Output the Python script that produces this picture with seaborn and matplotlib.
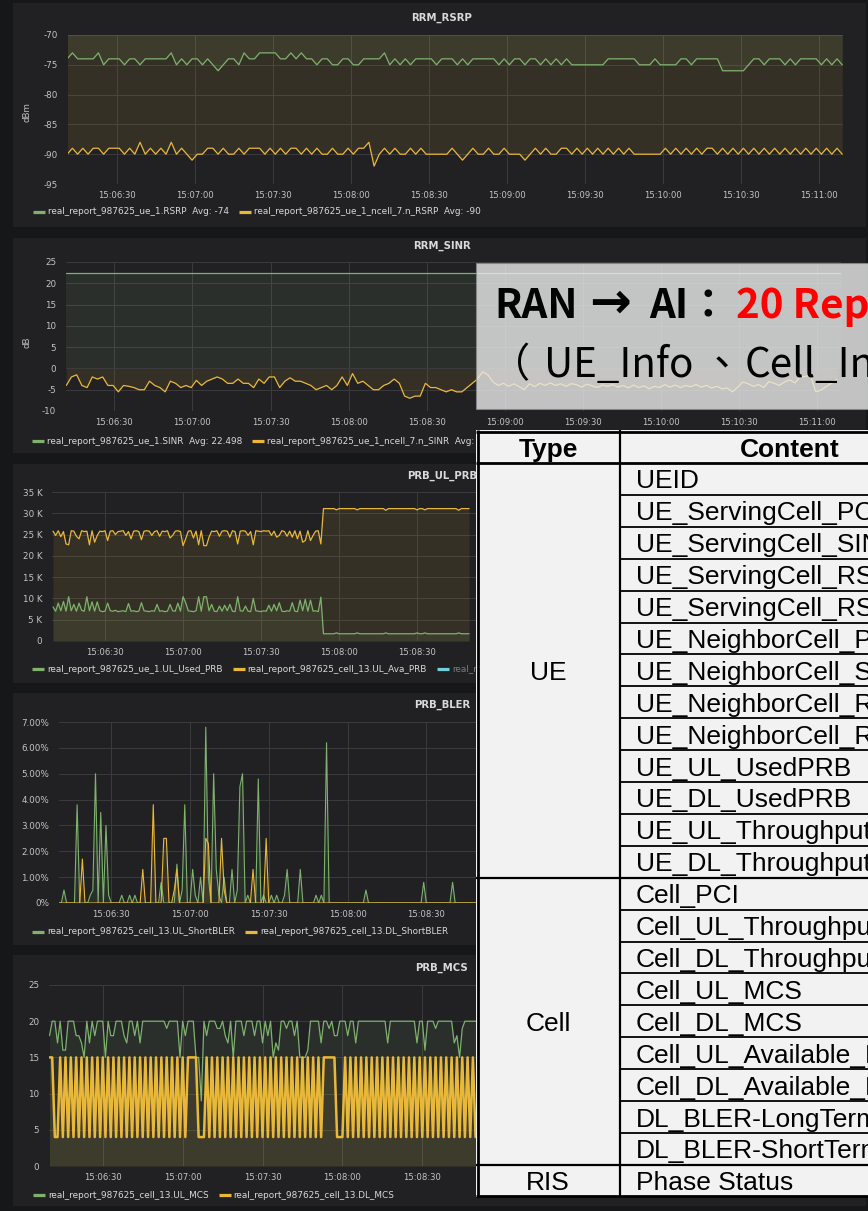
import numpy as np
import pandas as pd
import seaborn as sns
import matplotlib.pyplot as plt
from matplotlib.lines import Line2D
from matplotlib.patches import Rectangle

W, H = 868, 1211

# ---------------- data (time = seconds after 15:06:00) ----------------
# RRM_RSRP, 2 s samples from t=11
rsrp_serving = [
    -74, -73, -74, -74, -74, -74, -73, -75, -74, -74,
    -74, -75, -74, -74, -75, -74, -74, -74, -74, -74,
    -73, -75, -74, -75, -74, -74, -75, -74, -75, -76,
    -75, -74, -74, -75, -73, -74, -74, -73, -73, -73,
    -73, -74, -74, -73, -74, -73, -74, -74, -75, -74,
    -74, -75, -75, -74, -74, -75, -75, -74, -74, -74,
    -74, -73, -75, -74, -75, -74, -75, -74, -74, -74,
    -74, -75, -74, -74, -74, -75, -74, -75, -74, -74,
    -74, -74, -74, -75, -74, -75, -74, -74, -75, -74,
    -74, -75, -74, -75, -74, -75, -74, -75, -75, -75,
    -75, -75, -75, -75, -74, -74, -74, -74, -74, -74,
    -75, -75, -75, -74, -75, -75, -75, -75, -74, -74,
    -75, -74, -74, -74, -74, -74, -76, -76, -76, -76,
    -76, -75, -74, -74, -75, -74, -74, -74, -75, -74,
    -75, -74, -74, -74, -74, -75, -74, -75, -74, -75,
]
rsrp_neighbor = [
    -90, -89, -90, -89, -90, -89, -89, -90, -89, -89,
    -89, -90, -89, -90, -88, -90, -89, -90, -89, -90,
    -88, -90, -89, -90, -91, -90, -90, -89, -89, -90,
    -89, -90, -90, -89, -90, -89, -89, -89, -90, -89,
    -90, -89, -90, -89, -89, -90, -89, -90, -89, -90,
    -90, -89, -90, -90, -89, -90, -89, -89, -88, -92,
    -90, -89, -90, -89, -90, -90, -89, -90, -89, -90,
    -90, -90, -90, -90, -89, -90, -91, -90, -89, -90,
    -90, -89, -90, -90, -89, -90, -90, -90, -91, -90,
    -89, -90, -89, -90, -90, -89, -89, -90, -89, -90,
    -89, -90, -89, -90, -89, -90, -89, -90, -89, -90,
    -90, -90, -90, -90, -90, -89, -90, -89, -90, -89,
    -90, -89, -90, -89, -89, -90, -89, -90, -89, -90,
    -89, -90, -89, -90, -89, -90, -89, -90, -89, -90,
    -89, -90, -89, -90, -89, -90, -89, -90, -89, -90,
]

# RRM_SINR
sinr_serving = [22.5, 22.5, 22.5, 22.5, 22.5, 22.5, 22.5, 22.5,
                22.5, 22.5, 22.5, 22.5, 22.5, 22.5, 22.5, 22.5]   # 20 s steps
sinr_neighbor = [                                                 # 2 s steps from t=11.5
    -4, -2, -1.5, -4, -4.5, -2, -2.5, -2, -4, -4,
    -5.5, -4, -4.2, -4.5, -5, -5, -3, -4, -4.5, -5.5,
    -3, -3.5, -4.5, -4, -4.5, -2.8, -4, -3, -2.5, -2,
    -2.5, -3.5, -3.5, -2.5, -3.5, -3.5, -4.5, -2.5, -3.5, -2,
    -2, -4.5, -3, -2.2, -3, -3, -3.5, -4, -5, -4.5,
    -4, -5, -4, -2, -4, -1.2, -3.5, -3, -4, -5,
    -5, -4, -3.5, -2.5, -3.5, -6.5, -7, -6.5, -6.5, -3.5,
    -4.5, -4.5, -5, -5.5, -5, -5.5, -5.5, -4.5, -3.5,
    -2.5, -0.8, -1.5, -3.2, -4.0, -3.5, -4.2, -3.6, -4.3, -5.0,
    -3.6, -4.3, -3.5, -4.0, -3.4, -4.0, -3.6, -4.2, -3.6, -3.8,
    -4.4, -3.7, -4.1, -4.5, -3.9, -4.2, -3.8, -4.4, -4.0, -4.6,
    -3.9, -4.5, -4.1, -4.8, -4.2, -4.5, -3.8, -4.4, -3.9, -4.5,
    -4.0, -4.3, -3.8, -4.4, -4.0, -4.6, -4.2, -4.8, -4.6, -5.5,
    -4.4, -3.2, -3.6, -4.2, -3.8, -4.5, -3.1, -3.5, -4.0, -3.2,
    -2.7, -3.4, -2.0, -1.9, -1.6, -5.5, -5.1, -4.3, -3.5, -2.6,
]

# PRB_UL_PRB (thousands), 1 s samples from t=10
ul_used_prb = [
    8.0, 7.0, 8.9, 7.1, 9.3, 7.0, 10.4, 7.1, 8.6, 7.0,
    8.9, 7.2, 7.0, 10.4, 7.1, 9.2, 7.0, 9.2, 7.1, 6.9,
    7.0, 8.9, 7.1, 7.0, 7.2, 6.9, 7.0, 7.1, 6.9, 8.8,
    7.0, 7.1, 6.9, 7.0, 9.0, 7.1, 7.0, 6.9, 7.1, 7.0,
    8.6, 7.0, 7.1, 6.9, 7.0, 8.6, 7.1, 7.0, 8.9, 7.0,
    10.4, 9.0, 7.1, 7.0, 6.9, 7.1, 10.4, 7.0, 10.4, 10.4,
    7.1, 8.6, 7.0, 6.9, 8.2, 7.0, 8.4, 7.1, 8.6, 7.0,
    6.9, 10.4, 7.1, 7.0, 8.2, 7.0, 6.9, 10.0, 7.1, 7.0,
    6.9, 7.1, 7.0, 8.4, 7.0, 8.6, 7.1, 9.0, 7.0, 6.9,
    7.1, 7.0, 9.0, 7.0, 6.9, 9.6, 7.1, 9.8, 7.0, 9.6,
    7.0, 7.1, 6.9, 10.3, 1.7, 1.7, 1.7, 1.7, 1.7, 1.9,
    1.7, 1.7, 1.7, 1.7, 1.7, 1.7, 1.7, 1.9, 1.7, 1.7,
    1.7, 1.7, 1.7, 1.7, 1.7, 1.7, 1.7, 1.7, 1.9, 1.7,
    1.7, 1.7, 1.7, 1.7, 1.7, 1.7, 1.7, 1.7, 1.7, 1.7,
    1.9, 1.7, 1.7, 1.9, 1.7, 1.7, 1.7, 1.7, 1.7, 1.7,
    1.7, 1.7, 1.7, 1.7, 1.7, 1.7, 1.9, 1.7, 1.7, 1.7,
    1.7,
]
ul_ava_prb = [
    25.8, 24.8, 25.9, 24.5, 25.7, 22.8, 22.6, 25.9, 25.8, 24.6,
    24.0, 25.9, 25.7, 25.8, 22.6, 25.9, 23.2, 24.8, 25.8, 25.7,
    25.9, 23.6, 25.8, 25.9, 25.0, 25.7, 25.8, 25.9, 24.8, 25.7,
    24.0, 25.8, 25.9, 25.7, 23.8, 25.8, 25.9, 25.8, 24.8, 25.7,
    25.9, 24.6, 25.8, 25.7, 25.9, 24.2, 24.8, 25.8, 25.9, 25.7,
    22.4, 24.0, 25.8, 25.9, 24.2, 25.8, 22.6, 25.9, 22.4, 22.4,
    24.4, 25.8, 25.7, 25.9, 24.6, 25.8, 25.9, 25.8, 24.4, 25.9,
    25.7, 22.8, 25.8, 25.9, 25.8, 24.8, 25.7, 22.6, 25.9, 25.8,
    25.7, 25.9, 25.8, 25.9, 24.8, 25.8, 24.4, 24.8, 25.9, 25.7,
    24.6, 25.8, 24.4, 25.9, 24.0, 25.8, 23.2, 23.6, 25.9, 23.6,
    24.8, 25.8, 25.9, 22.8, 31.1, 31.1, 31.1, 31.1, 31.1, 30.8,
    31.1, 31.1, 31.1, 31.1, 31.1, 31.1, 31.1, 30.8, 31.1, 31.1,
    31.1, 31.1, 31.1, 31.1, 31.1, 31.1, 31.1, 31.1, 30.7, 31.1,
    31.1, 31.1, 31.1, 31.1, 31.1, 31.1, 31.1, 31.1, 31.1, 31.1,
    30.8, 31.1, 31.1, 30.8, 31.1, 31.1, 31.1, 31.1, 31.1, 31.1,
    31.1, 31.1, 31.1, 31.1, 31.1, 31.1, 30.7, 31.1, 31.1, 31.1,
    31.1,
]

# PRB_BLER (%), 1 s samples from t=10
ul_short_bler = [
    0, 0, 0.5, 0, 0, 0, 0, 3.8, 0, 0,
    0, 0, 0.3, 0.5, 5.0, 0, 3.5, 0, 3.0, 0.3,
    0, 0, 0, 0, 0.3, 0, 0, 0.3, 0, 0.3,
    0, 0, 0, 0, 0, 0, 0, 0, 0, 0.8,
    0, 0, 0, 0, 0, 1.5, 0, 0.5, 3.8, 0,
    0, 1.3, 0.3, 0, 1.0, 0, 6.8, 1.0, 0, 5.0,
    1.3, 0.3, 0, 1.0, 0, 0, 1.3, 0, 0.5, 4.5,
    5.0, 0, 0.3, 0, 0, 0, 4.8, 0, 0.3, 0,
    0, 0.3, 0, 0.3, 0, 0, 0.3, 1.3, 0, 0,
    0, 0, 1.3, 0, 0, 0, 0, 0, 0.3, 0,
    0.3, 0, 6.2, 0, 0, 0, 0, 0, 0, 0,
    0, 0, 0, 0, 0, 0, 0, 0.5, 0, 0,
    0, 0, 0, 0, 0, 0, 0, 0, 0, 0,
    0, 0, 0, 0, 0, 0, 0, 0, 0, 0.8,
    0, 0, 0, 0, 0, 0, 0, 0, 0, 0,
    0.8, 0, 0, 0, 0, 0, 0, 0, 0, 0,
    0,
]
dl_short_bler = [
    0, 0, 0, 0, 0, 0, 0, 0, 0, 1.7,
    0, 0, 0, 0, 0, 0, 0, 0, 0, 0,
    0, 0, 0, 0, 0, 0, 0, 0, 0, 0,
    0, 0, 1.3, 0, 0, 0, 3.8, 0, 0, 0,
    2.5, 2.5, 0, 0, 0.5, 1.3, 0, 0, 0, 0,
    0, 0, 0, 0, 0, 0, 2.5, 2.3, 0, 0,
    0, 0, 2.5, 0.5, 0, 0, 0, 0, 0, 0,
    0, 0, 0, 0, 1.3, 0, 0, 0, 0, 2.5,
    0, 0, 0, 0, 0, 0, 0, 0, 0, 0,
    0, 0, 0, 0, 0, 0, 0, 0, 0, 0,
    0, 0, 0, 0, 0, 0, 0, 0, 0, 0,
    0, 0, 0, 0, 0, 0, 0, 0, 0, 0,
    0, 0, 0, 0, 0, 0, 0, 0, 0, 0,
    0, 0, 0, 0, 0, 0, 0, 0, 0, 0,
    0, 0, 0, 0, 0, 0, 0, 0, 0, 0,
    0, 0, 0, 0, 0, 0, 0, 0, 0, 0,
    0,
]

# PRB_MCS, 1 s samples from t=10
ul_mcs = [
    18, 20, 20, 17, 20, 16, 16, 20, 20, 20,
    18, 18, 17, 15, 20, 17, 20, 18, 20, 20,
    20, 15, 20, 18, 18, 20, 20, 20, 18, 17,
    20, 20, 18, 20, 17, 20, 20, 20, 20, 20,
    20, 20, 20, 20, 19, 20, 20, 20, 20, 15,
    20, 18, 20, 20, 20, 15, 15, 9, 20, 18,
    20, 20, 20, 19, 19, 20, 18, 17, 20, 15,
    20, 20, 20, 18, 20, 20, 20, 18, 20, 20,
    17, 20, 18, 20, 15, 17, 16, 20, 20, 19,
    20, 20, 18, 20, 15, 15, 15, 16, 20, 20,
    20, 20, 17, 20, 20, 19, 20, 18, 18, 20,
    20, 20, 18, 20, 20, 17, 20, 20, 20, 20,
    20, 20, 20, 20, 20, 20, 20, 17, 20, 20,
    20, 20, 20, 20, 20, 20, 20, 20, 17, 20,
    20, 16, 20, 20, 20, 19, 20, 20, 20, 20,
    20, 20, 17, 18, 15, 19, 20, 20, 20, 20,
    20,
]
dl_mcs = [
    15, 15, 4, 4, 15, 4, 15, 4, 15, 4,
    15, 4, 15, 4, 15, 4, 15, 4, 15, 4,
    15, 4, 15, 4, 15, 4, 15, 4, 15, 4,
    15, 4, 15, 4, 15, 4, 15, 4, 15, 4,
    15, 4, 15, 4, 15, 4, 15, 4, 15, 4,
    15, 4, 15, 15, 15, 15, 4, 4, 4, 15,
    4, 15, 4, 15, 4, 15, 4, 15, 4, 15,
    4, 15, 4, 15, 4, 15, 4, 15, 4, 15,
    4, 15, 4, 15, 4, 15, 4, 15, 4, 15,
    4, 15, 4, 15, 4, 15, 4, 15, 4, 15,
    4, 15, 4, 15, 15, 15, 15, 15, 4, 4,
    4, 15, 4, 15, 4, 15, 4, 15, 4, 15,
    4, 15, 4, 15, 4, 15, 4, 15, 4, 15,
    4, 15, 4, 15, 4, 15, 4, 15, 4, 15,
    4, 15, 4, 15, 4, 15, 4, 15, 4, 15,
    4, 15, 4, 15, 4, 15, 4, 15, 4, 15,
    4,
]

time_ticks = [30, 60, 90, 120, 150, 180, 210, 240, 270, 300]

table_types = [("UE", 0, 13), ("Cell", 13, 9), ("RIS", 22, 1)]
table_content = [
    "UEID", "UE_ServingCell_PCI", "UE_ServingCell_SINR", "UE_ServingCell_RSRP",
    "UE_ServingCell_RSRQ", "UE_NeighborCell_PCI", "UE_NeighborCell_SINR",
    "UE_NeighborCell_RSRP", "UE_NeighborCell_RSRQ", "UE_UL_UsedPRB", "UE_DL_UsedPRB",
    "UE_UL_Throughput", "UE_DL_Throughput", "Cell_PCI", "Cell_UL_Throughput",
    "Cell_DL_Throughput", "Cell_UL_MCS", "Cell_DL_MCS", "Cell_UL_Available_PRB",
    "Cell_DL_Available_PRB", "DL_BLER-LongTerm", "DL_BLER-ShortTerm", "Phase Status",
]

# ---------------- style ----------------
GREEN, YELLOW, CYAN = '#7eb26d', '#eab839', '#6ed0e0'
BG, PANEL, GRID = '#161719', '#212124', '#3b3b3e'
TICK, TEXT = '#c4c4c6', '#d8d9da'

sns.set_theme(style="dark")
plt.rcParams['font.family'] = ['DejaVu Sans']
plt.rcParams['axes.unicode_minus'] = False

fig = plt.figure(figsize=(W / 100, H / 100), dpi=100, facecolor=BG)
renderer = fig.canvas.get_renderer()

bg = fig.add_axes([0, 0, 1, 1])
bg.set_xlim(0, W)
bg.set_ylim(H, 0)
bg.axis('off')
bg.set_zorder(0)


def px_axes(l, t, r, b):
    ax = fig.add_axes([l / W, 1 - b / H, (r - l) / W, (b - t) / H])
    ax.set_zorder(1)
    return ax


def hhmmss(t):
    t = int(round(t))
    return f"15:{6 + t // 60:02d}:{t % 60:02d}"


def draw(ax, t0, step, values, color, lw=0.9):
    t = t0 + step * np.arange(len(values))
    df = pd.DataFrame({'t': t, 'v': values})
    sns.lineplot(data=df, x='t', y='v', ax=ax, color=color, linewidth=lw,
                 estimator=None, errorbar=None)
    ax.fill_between(df['t'], df['v'], 0, color=color, alpha=0.1, lw=0)


def style(ax, xlim, ylim, yticks, ylabels, last_label=300):
    ax.set_facecolor('none')
    ax.set_xlim(*xlim)
    ax.set_ylim(*ylim)
    ax.set_xticks(time_ticks)
    # labels under the overlaid table are not drawn
    ax.set_xticklabels([hhmmss(t) if t <= last_label else '' for t in time_ticks])
    ax.set_yticks(yticks)
    ax.set_yticklabels(ylabels)
    ax.set_xlabel('')
    ax.set_ylabel('')
    ax.grid(True, color=GRID, lw=0.7)
    for s in ax.spines.values():
        s.set_visible(False)
    ax.tick_params(axis='x', length=0, pad=5, labelsize=6.1, labelcolor=TICK)
    ax.tick_params(axis='y', length=0, pad=7, labelsize=6.3, labelcolor=TICK)


def panel(top, bottom, title, title_y):
    bg.add_patch(Rectangle((13, top), 853, bottom - top, color=PANEL, lw=0))
    bg.text(442, title_y, title, ha='center', va='center', fontsize=7.3,
            fontweight='bold', color=TEXT)


def legend(y, x0, items):
    x = x0
    for label, color, tcolor in items:
        bg.add_line(Line2D([x, x + 12], [y, y], color=color, lw=2.3,
                           solid_capstyle='butt'))
        txt = bg.text(x + 15, y, label, ha='left', va='center', fontsize=6.4,
                      color=tcolor)
        x = txt.get_window_extent(renderer).x1 + 10


# ---------------- panel 1: RRM_RSRP ----------------
panel(3, 227, 'RRM_RSRP', 18)
ax1 = px_axes(68, 35, 843, 184)
draw(ax1, 11, 2, rsrp_serving, GREEN)
draw(ax1, 11, 2, rsrp_neighbor, YELLOW)
style(ax1, (11.3, 309.3), (-95, -70), [-95, -90, -85, -80, -75, -70],
      ['-95', '-90', '-85', '-80', '-75', '-70'])
bg.text(27, 112, 'dBm', rotation=90, ha='center', va='center', fontsize=6.2, color=TICK)
legend(212, 33, [('real_report_987625_ue_1.RSRP  Avg: -74', GREEN, TEXT),
                 ('real_report_987625_ue_1_ncell_7.n_RSRP  Avg: -90', YELLOW, TEXT)])

# ---------------- panel 2: RRM_SINR ----------------
panel(238, 453, 'RRM_SINR', 246)
ax2 = px_axes(66, 262, 841, 411)
draw(ax2, 11.5, 20, sinr_serving, GREEN)
draw(ax2, 11.5, 2, sinr_neighbor, YELLOW)
style(ax2, (11.4, 309.2), (-10, 25), [-10, -5, 0, 5, 10, 15, 20, 25],
      ['-10', '-5', '0', '5', '10', '15', '20', '25'])
bg.text(27, 342, 'dB', rotation=90, ha='center', va='center', fontsize=6.2, color=TICK)
legend(441, 32, [('real_report_987625_ue_1.SINR  Avg: 22.498', GREEN, TEXT),
                 ('real_report_987625_ue_1_ncell_7.n_SINR  Avg: -3.912', YELLOW, TEXT)])

# ---------------- panel 3: PRB_UL_PRB ----------------
panel(464, 683, 'PRB_UL_PRB', 476)
ax3 = px_axes(52, 492, 843, 641)
draw(ax3, 10, 1, ul_used_prb, GREEN)
draw(ax3, 10, 1, ul_ava_prb, YELLOW)
style(ax3, (9.6, 313.8), (0, 35), [0, 5, 10, 15, 20, 25, 30, 35],
      ['0', '5 K', '10 K', '15 K', '20 K', '25 K', '30 K', '35 K'], last_label=150)
legend(669, 32, [('real_report_987625_ue_1.UL_Used_PRB', GREEN, TEXT),
                 ('real_report_987625_cell_13.UL_Ava_PRB', YELLOW, TEXT),
                 ('real_report', CYAN, '#7b7c80')])

# ---------------- panel 4: PRB_BLER ----------------
panel(693, 945, 'PRB_BLER', 705)
ax4 = px_axes(59, 722, 843, 903)
draw(ax4, 10, 1, ul_short_bler, GREEN, lw=0.8)
draw(ax4, 10, 1, dl_short_bler, YELLOW, lw=0.8)
style(ax4, (10.1, 308.7), (0, 7), [0, 1, 2, 3, 4, 5, 6, 7],
      ['0%', '1.00%', '2.00%', '3.00%', '4.00%', '5.00%', '6.00%', '7.00%'],
      last_label=150)
legend(932, 32, [('real_report_987625_cell_13.UL_ShortBLER', GREEN, TEXT),
                 ('real_report_987625_cell_13.DL_ShortBLER', YELLOW, TEXT)])

# ---------------- panel 5: PRB_MCS ----------------
panel(955, 1206, 'PRB_MCS', 968)
ax5 = px_axes(49, 985, 843, 1166)
draw(ax5, 10, 1, ul_mcs, GREEN)
draw(ax5, 10, 1, dl_mcs, YELLOW, lw=1.8)
style(ax5, (9.8, 308.0), (0, 25), [0, 5, 10, 15, 20, 25],
      ['0', '5', '10', '15', '20', '25'], last_label=150)
legend(1195, 33, [('real_report_987625_cell_13.UL_MCS', GREEN, TEXT),
                  ('real_report_987625_cell_13.DL_MCS', YELLOW, TEXT)])

# ---------------- overlay: banner + table ----------------
ov = fig.add_axes([0, 0, 1, 1])
ov.set_xlim(0, W)
ov.set_ylim(H, 0)
ov.axis('off')
ov.set_zorder(20)
ov.patch.set_alpha(0)

ov.add_patch(Rectangle((476, 263), 420, 146, facecolor='#ebebeb', alpha=0.8,
                       edgecolor='#8a8a8a', lw=0.8))
cjk = ['Noto Sans CJK TC', 'DejaVu Sans']
ov.text(494, 318, 'RAN', family=cjk, fontweight='bold', fontsize=29,
        color='black', ha='left', va='baseline')
ov.text(610, 318, '→', family=['DejaVu Sans'], fontweight='bold', fontsize=36,
        color='black', ha='center', va='baseline')
ov.text(649, 318, 'AI：', family=cjk, fontweight='bold', fontsize=29,
        color='black', ha='left', va='baseline')
ov.text(736, 318, '20 Reports', family=cjk, fontweight='bold', fontsize=29,
        color='#ff0000', ha='left', va='baseline')
ov.text(490, 377, '（', family=cjk, fontsize=29, color='black', ha='left', va='baseline')
ov.text(544, 377, 'UE_Info', family=cjk, fontsize=29, color='black', ha='left', va='baseline')
ov.text(722, 377, '、', family=cjk, fontsize=29, color='black', ha='center', va='baseline')
ov.text(745, 377, 'Cell_Info、RIS_Info）', family=cjk, fontsize=29, color='black',
        ha='left', va='baseline')

tab_font = ['Liberation Sans', 'DejaVu Sans']
row_h, body_top = 31.9, 463
ov.add_patch(Rectangle((476, 430), 520, 767, facecolor='#f2f2f2', lw=0))
ov.text(548, 457, 'Type', family=tab_font, fontweight='bold', fontsize=19,
        ha='center', va='baseline', color='black')
ov.text(790, 457, 'Content', family=tab_font, fontweight='bold', fontsize=19,
        ha='center', va='baseline', color='black')
for i, name in enumerate(table_content):
    y0 = body_top + i * row_h
    ov.text(636, y0 + 25.5, name, family=tab_font, fontsize=19, ha='left',
            va='baseline', color='black')
    if i > 0:
        ov.plot([619.5, 1000], [y0, y0], color='black', lw=1.3, solid_capstyle='butt')
for name, start, n in table_types:
    y0 = body_top + start * row_h
    ov.text(548, y0 + n * row_h / 2 + 9.5, name, family=tab_font, fontsize=19,
            ha='center', va='baseline', color='black')
    if start > 0:
        ov.plot([476, 1000], [y0, y0], color='black', lw=1.6, solid_capstyle='butt')
ov.plot([476, 1000], [431.5, 431.5], color='black', lw=2.0, solid_capstyle='butt')
ov.plot([476, 1000], [463, 463], color='black', lw=2.0, solid_capstyle='butt')
ov.plot([476, 1000], [1196, 1196], color='black', lw=2.0, solid_capstyle='butt')
ov.plot([477.5, 477.5], [430, 1197], color='black', lw=2.0, solid_capstyle='butt')
ov.plot([619.5, 619.5], [430, 1197], color='black', lw=1.6, solid_capstyle='butt')

fig.savefig('out.png', dpi=100, facecolor=BG)
